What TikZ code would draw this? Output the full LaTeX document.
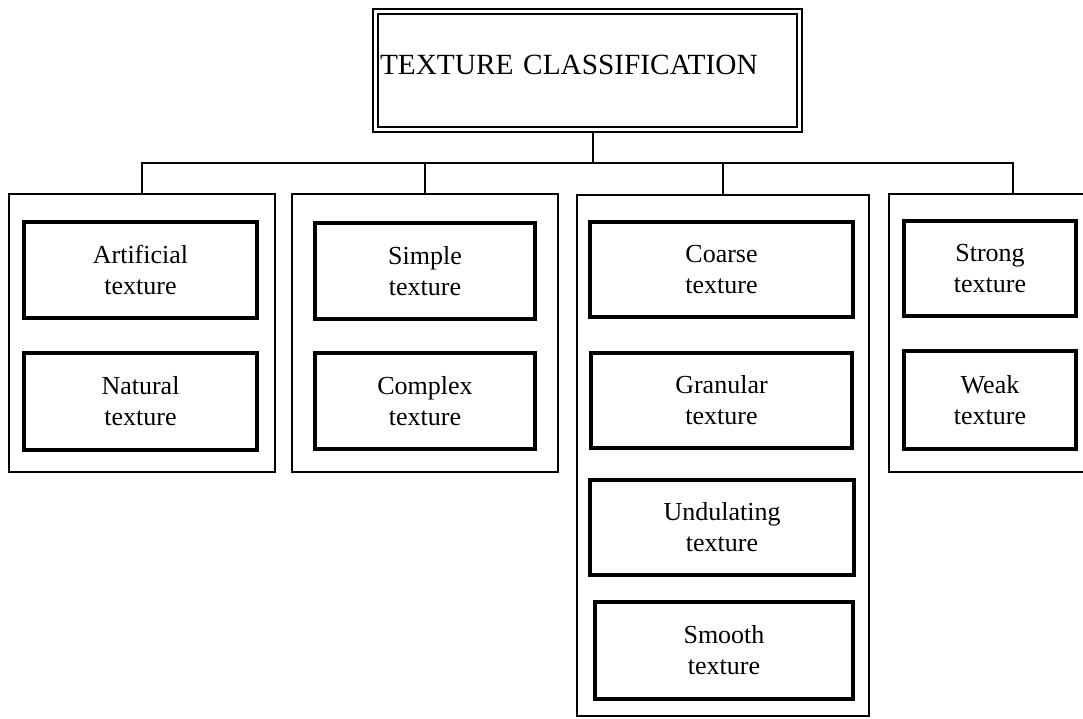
\documentclass[tikz,border=0pt]{standalone}
\usepackage{fontspec}
\setmainfont{Liberation Serif}
\usepackage{tikz}

\begin{document}
\begin{tikzpicture}[x=1pt,y=-1pt,
  grp/.style={draw,line width=1.2pt,inner sep=0pt},
  item/.style={draw,line width=4pt,align=center,inner sep=0pt,font=\fontsize{26}{31}\selectfont},
  wire/.style={-,line width=1.2pt}]
\useasboundingbox (0,0) rectangle (1083,718);
\clip (0,0) rectangle (1083,718);

\node[draw,double,line width=2pt,double distance=3pt,outer sep=3.5pt,minimum width=424pt,minimum height=118pt,text width=415pt,align=left,inner xsep=4.5pt,text depth=11pt,font=\fontsize{29.3}{35}\selectfont](1) at(587.5,70.5){TEXTURE CLASSIFICATION};

\node[grp,minimum width=266pt,minimum height=278pt](2) at(142,333){};
\node[grp,minimum width=266pt,minimum height=278pt](3) at(425,333){};
\node[grp,minimum width=292pt,minimum height=521pt](4) at(723,455.5){};
\node[grp,minimum width=248pt,minimum height=278pt](5) at(1013,333){};

\node[item,minimum width=233pt,minimum height=96pt](6) at(140.5,270){Artificial\\texture};
\node[item,minimum width=233pt,minimum height=97pt](7) at(140.5,401.5){Natural\\texture};
\node[item,minimum width=220pt,minimum height=96pt](8) at(425,271){Simple\\texture};
\node[item,minimum width=220pt,minimum height=96pt](9) at(425,401){Complex\\texture};
\node[item,minimum width=263pt,minimum height=95pt](10) at(721.5,269.5){Coarse\\texture};
\node[item,minimum width=261pt,minimum height=95pt](11) at(721.5,400.5){Granular\\texture};
\node[item,minimum width=264pt,minimum height=95pt](12) at(722,527.5){Undulating\\texture};
\node[item,minimum width=258pt,minimum height=97pt](13) at(724,650.5){Smooth\\texture};
\node[item,minimum width=172pt,minimum height=95pt](14) at(990,268.5){Strong\\texture};
\node[item,minimum width=172pt,minimum height=98pt](15) at(990,400){Weak\\texture};

\coordinate (s) at (593,163);
\draw [wire](1.south -| s)--(s);
\draw [wire](2.north) |- (s) -| (5.north);
\draw [wire](3.north)--(3.north |- s);
\draw [wire](4.north)--(4.north |- s);
\end{tikzpicture}
\end{document}
